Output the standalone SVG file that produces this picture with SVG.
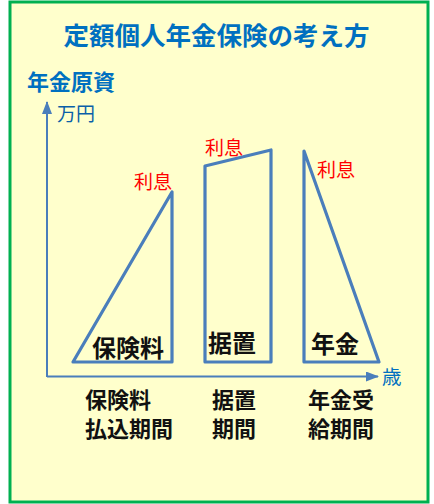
<svg xmlns="http://www.w3.org/2000/svg" width="434" height="504" viewBox="0 0 434 504">
<style>
.cjk{font-family:"Noto Sans CJK JP","Noto Sans CJK SC",sans-serif}
.title{font-size:25.5px;font-weight:bold;fill:#0070c0}
.axis-title{font-size:22px;font-weight:bold;fill:#0070c0}
.unit{font-size:19px;fill:#0a5fa8}
.red{font-size:19px;fill:#ff0000}
.inner{font-size:24px;font-weight:bold;fill:#111}
.period{font-size:22px;font-weight:bold;fill:#111}
.shape{fill:none;stroke:#4a7ebb;stroke-width:3.2;stroke-linejoin:round}
.axis{fill:none;stroke:#4a7ebb;stroke-width:2}
</style>
<defs>
<marker id="arr" viewBox="0 0 13 10" refX="12" refY="5" markerWidth="13" markerHeight="10" orient="auto" markerUnits="userSpaceOnUse">
<path d="M0,0 L13,5 L0,10 z" fill="#4a7ebb"/>
</marker>
</defs>
<rect x="10" y="2" width="418" height="500" fill="#ffffcc" stroke="#00b050" stroke-width="3"/>
<text class="cjk title" x="216.5" y="45" text-anchor="middle">定額個人年金保険の考え方</text>
<text class="cjk axis-title" x="27" y="90">年金原資</text>
<text class="cjk unit" x="57" y="121">万円</text>
<text class="cjk" x="382" y="384" font-size="19.5" fill="#0070c0">歳</text>
<g id="connectors">
<path class="axis" d="M47,377 V102" marker-end="url(#arr)"/>
<path class="axis" d="M47,376.5 H378" marker-end="url(#arr)"/>
</g>
<g id="premium">
<polygon class="shape" points="73,362 172,192 172,362"/>
<text class="cjk red" x="134" y="189">利息</text>
<text class="cjk inner" x="92" y="357">保険料</text>
</g>
<g id="deferral">
<polygon class="shape" points="205,166 271,150 271,362 205,362"/>
<text class="cjk red" x="205" y="155">利息</text>
<text class="cjk inner" x="208" y="352">据置</text>
</g>
<g id="annuity">
<polygon class="shape" points="304,151 379,362 304,362"/>
<text class="cjk red" x="317" y="177">利息</text>
<text class="cjk inner" x="311" y="353">年金</text>
</g>
<g id="periods">
<text class="cjk period" x="85" y="408">保険料</text>
<text class="cjk period" x="85" y="437">払込期間</text>
<text class="cjk period" x="212" y="408">据置</text>
<text class="cjk period" x="212" y="437">期間</text>
<text class="cjk period" x="308" y="408">年金受</text>
<text class="cjk period" x="308" y="437">給期間</text>
</g>
</svg>
